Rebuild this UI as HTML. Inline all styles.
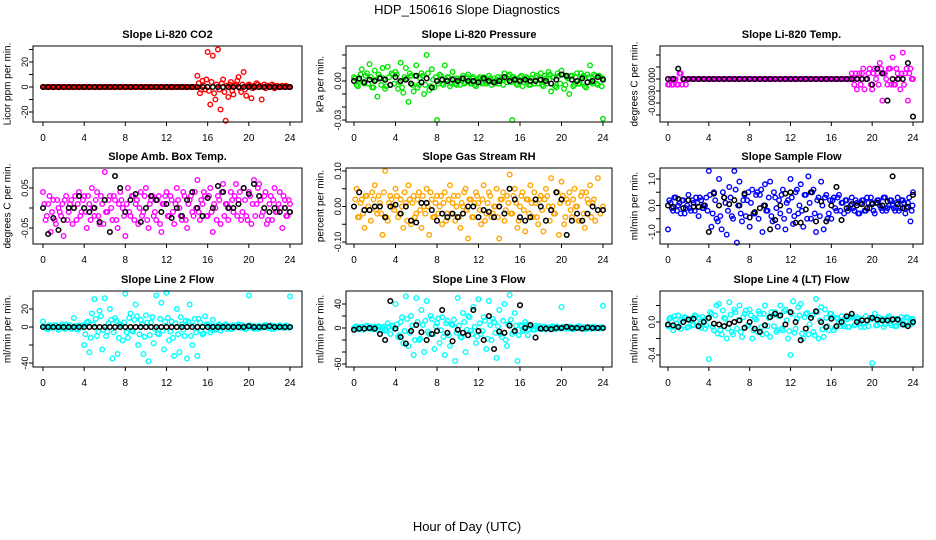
<!DOCTYPE html>
<html><head><meta charset="utf-8"><style>
body{margin:0;background:#fff;}
svg{display:block;font-family:"Liberation Sans",sans-serif;}
</style></head><body>
<svg id="chart" width="936" height="540" viewBox="0 0 936 540">
<text x="467" y="14" text-anchor="middle" font-size="13">HDP_150616  Slope Diagnostics</text>
<text x="467" y="531" text-anchor="middle" font-size="13">Hour of Day (UTC)</text>
</svg>
<script>
const H = [0,0.25,0.5,0.75,1,1.25,1.5,1.75,2,2.25,2.5,2.75,3,3.25,3.5,3.75,4,4.25,4.5,4.75,5,5.25,5.5,5.75,6,6.25,6.5,6.75,7,7.25,7.5,7.75,8,8.25,8.5,8.75,9,9.25,9.5,9.75,10,10.25,10.5,10.75,11,11.25,11.5,11.75,12,12.25,12.5,12.75,13,13.25,13.5,13.75,14,14.25,14.5,14.75,15,15.25,15.5,15.75,16,16.25,16.5,16.75,17,17.25,17.5,17.75,18,18.25,18.5,18.75,19,19.25,19.5,19.75,20,20.25,20.5,20.75,21,21.25,21.5,21.75,22,22.25,22.5,22.75,23,23.25,23.5,23.75,24];
const HC = [0.125,0.375,0.625,0.875,1.125,1.375,1.625,1.875,2.125,2.375,2.625,2.875,3.125,3.375,3.625,3.875,4.125,4.375,4.625,4.875,5.125,5.375,5.625,5.875,6.125,6.375,6.625,6.875,7.125,7.375,7.625,7.875,8.125,8.375,8.625,8.875,9.125,9.375,9.625,9.875,10.125,10.375,10.625,10.875,11.125,11.375,11.625,11.875,12.125,12.375,12.625,12.875,13.125,13.375,13.625,13.875,14.125,14.375,14.625,14.875,15.125,15.375,15.625,15.875,16.125,16.375,16.625,16.875,17.125,17.375,17.625,17.875,18.125,18.375,18.625,18.875,19.125,19.375,19.625,19.875,20.125,20.375,20.625,20.875,21.125,21.375,21.625,21.875,22.125,22.375,22.625,22.875,23.125,23.375,23.625,23.875,23.95];
const HB = [0,0.5,1,1.5,2,2.5,3,3.5,4,4.5,5,5.5,6,6.5,7,7.5,8,8.5,9,9.5,10,10.5,11,11.5,12,12.5,13,13.5,14,14.5,15,15.5,16,16.5,17,17.5,18,18.5,19,19.5,20,20.5,21,21.5,22,22.5,23,23.5,24];
const xTicks = [0,4,8,12,16,20,24];

const co2 = [0,0,0,0,0,0,0,0,0,0,0,0,0,0,0,0,0,0,0,0,0,0,0,0,0,0,0,0,0,0,0,0,0,0,0,0,0,0,0,0,0,0,0,0,0,0,0,0,0,0,0,0,0,0,0,0,0,0,0,0,
 9,-5,5,-2, 28,-14,25,-10, 30,-18,6,-27, -8,4,-6,2, 8,-4,12,-7, 2,-9,1,3, 0,-10,2,1, 0,2,-1,1, 0,1,0,0, 0];
const co2Core = [0,0,0,0,0,0,0,0,0,0,0,0,0,0,0,0,0,0,0,0,0,0,0,0,0,0,0,0,0,0,0,0,0,0,0,0,0,0,0,0,0,0,0,0,0,0,0,0,0,0,0,0,0,0,0,0,0,0,0,0,
 3,-2,1,6, -3,4,-5,2, -2,3,-4,1, 2,-3,1,5, -1,2,-2,1, 1,-1,0,2, 1,0,-1,1, 0,1,0,0, 0,0,1,0, 0];
const co2Ref = [0,0,0,0,0,0,0,0,0,0,0,0,0,0,0,0,0,0,0,0,0,0,0,0,0,0,0,0,0,0,0,0,0,0,0,0,0,0,0,0,0,0,0,0,0,0,0,0,0];

const press = [.003,-.003,.001,.009, -.002,.006,.013,-.005, .008,-.012,.003,.010, -.006,.011,-.003,.005, .007,-.006,.014,-.009, .010,-.016,.004,-.008, .012,-.003,.006,-.010, .020,-.007,.009,-.005, -.030,.005,-.002,.012, .003,-.004,.007,-.002, .002,-.003,.004,-.001, .005,-.002,.003,-.004, .002,-.001,.003,-.002, .004,-.003,.002,.001, -.002,.003,.006,-.001, .005,-.030,.002,-.003, .003,-.004,.001,.002, -.003,.005,.003,-.002, .006,-.004,.002,.007, -.008,.003,-.005,.004, .008,-.006,.003,-.010, .004,-.003,.006,-.002, .003,-.004,.005,.012, -.002,.004,-.003,.003, -.029];
const pressCore = [.002,-.004,.005,-.001, .004,-.002,.003,-.005, .001,.005,-.003,.002, -.004,.003,.006,-.002, .005,-.001,-.005,.003, .002,.006,-.003,.004, -.005,.002,.004,-.003, .006,-.004,.001,.003, -.002,.004,-.003,.001, .003,-.002,.002,-.003, .001,.002,-.002,.003, -.001,.002,-.003,.001, .003,-.002,.001,-.001, .002,-.001,-.002,.003, .001,-.003,.002,.004, -.001,.003,-.002,.001, .004,-.001,.003,-.003, .002,-.002,.004,.001, -.003,.004,-.002,.005, .003,-.004,.006,-.002, .005,-.003,.002,.004, -.004,.003,-.002,.006, .004,-.005,.003,-.001, .005,-.002,.004,-.004, .002];
const pressRef = [.000,.002,-.001,.001,.000,.002,.001,-.003,.003,.000,.001,-.002,.004,-.001,.002,-.005,.000,.001,.000,.001,.000,.002,.000,.000,-.001,.002,.000,-.001,.000,.003,.000,.001,.000,.001,.000,.000,.001,.000,-.002,.001,.005,.004,.001,.000,.002,-.001,.000,.003,.001];

const ltemp = [-.0007,0,-.0007,0, -.0007,.0007,0,-.0007, 0,0,0,0,0,0,0,0,0,0,0,0,0,0,0,0,0,0,0,0,0,0,0,0,0,0,0,0,0,0,0,0,0,0,0,0,0,0,0,0,0,0,0,0,0,0,0,0,0,0,0,0,0,0,0,0,0,0,0,0,0,0,0,0,
 .0007,-.0007,-.0013,.0007, .0007,-.0013,0,.0013, -.0013,.0013,.0007,.0020, -.0027,.0007,-.0007,.0013, .0027,-.0007,.0007,-.0013, .0033,.0007,-.0027,.0013, 0];
const ltempCore = [-.0007,-.0007,0,-.0007, .0007,-.0007,0,0, 0,0,0,0,0,0,0,0,0,0,0,0,0,0,0,0,0,0,0,0,0,0,0,0,0,0,0,0,0,0,0,0,0,0,0,0,0,0,0,0,0,0,0,0,0,0,0,0,0,0,0,0,0,0,0,0,0,0,0,0,0,0,0,0,
 0,.0007,0,-.0007, .0013,0,.0007,-.0007, .0007,0,-.0007,.0013, .0007,0,.0013,-.0007, -.0007,.0013,0,.0007, -.0007,.0013,.0007,0, 0];
const ltempRef = [0,0,.0013,0,0,0,0,0,0,0,0,0,0,0,0,0,0,0,0,0,0,0,0,0,0,0,0,0,0,0,0,0,0,0,0,0,0,0,0,0,-.0007,.0013,.0007,-.0027,0,0,0,.0020,-.0047];

const amb = [.04,-.03,.01,-.06, .02,-.04,.00,-.02, -.07,.03,-.01,.02, .00,-.03,.04,-.01, .03,-.05,.01,.05, -.02,.04,-.04,.01, .09,-.01,.03,-.03, .02,-.05,.04,.00, -.07,.05,-.02,.03, .01,-.04,.04,-.01, .05,-.05,.02,-.02, -.03,.03,-.06,.01, .04,-.02,.02,-.04, .05,.00,-.03,.03, -.05,.02,-.01,.04, .07,-.03,.01,.03, -.02,.05,-.06,.00, .03,-.04,.06,.01, -.03,.04,-.01,.06, .02,-.03,.05,-.02, .04,-.04,.07,.01, .06,-.02,.03,-.04, .01,-.03,.05,-.01, .04,-.05,.02,-.02, .01];
const ambCore = [.01,-.02,.03,-.01, -.03,.02,-.01,.01, .02,-.03,.01,-.04, .03,.01,-.02,.02, -.01,.03,-.03,.00, .02,-.02,.03,-.04, -.01,.02,.00,.03, -.03,.01,.02,-.02, .01,-.01,.03,-.03, .02,.00,-.02,.03, -.03,.01,.03,-.01, .02,-.04,.01,.03, -.02,.03,-.01,.01, .02,-.02,.04,-.03, .01,.03,-.02,.00, -.01,.02,.04,-.02, .03,-.01,.01,-.03, .02,.04,-.02,.01, .00,.02,.03,-.02, .04,-.01,.02,-.03, .03,.01,-.02,.05, .02,-.01,.04,-.03, .03,.02,-.01,.01, .00,.03,-.02,.02, -.01];
const ambRef = [.00,-.065,-.025,-.055,-.03,.00,.00,.03,.00,-.01,.00,-.035,.02,-.06,.08,.05,-.01,.02,.035,-.035,.00,.03,.02,-.01,.01,-.025,.00,-.02,.02,.04,.00,-.02,.025,.00,.055,.04,.00,.00,.01,.05,.035,.06,.03,.00,-.01,.00,-.01,.00,-.01];

const rh = [.00,.05,-.03,.02, -.06,.03,-.01,.04, .06,-.02,.01,-.08, .10,-.04,.03,.00, .05,-.03,.02,-.06, .01,.06,-.05,.03, -.02,.04,-.06,.00, .05,-.08,.02,-.03, .03,.00,-.05,.04, -.02,.06,.01,-.04, .03,-.06,.00,.05, -.09,.02,-.03,.04, .01,-.05,.06,-.02, .04,-.03,.00,.05, -.09,.02,-.04,.03, .09,-.02,.05,-.06, .00,.04,-.07,.02, .06,-.03,.01,-.05, .03,-.07,.05,.00, .08,-.02,.04,-.08, .07,-.05,.02,.04, -.03,.05,.00,-.04, .04,-.06,.02,.06, .01,-.04,.08,-.02, .00];
const rhCore = [.02,-.03,.01,-.02, .03,.00,-.04,.02, -.01,.03,-.02,.04, -.03,.01,.02,-.01, .03,-.02,.00,.04, -.04,.02,.01,-.03, .02,-.01,.03,-.02, .00,.04,-.03,.01, -.02,.03,.01,-.04, .02,-.02,.03,.00, -.03,.01,.04,-.01, .02,-.03,.01,.03, -.01,.02,-.04,.01, .03,-.02,.00,-.03, .02,.04,-.01,.01, -.02,.03,.01,-.04, .03,-.01,.02,-.02, .01,.04,-.03,.02, -.01,.02,.03,-.04, .00,-.02,.04,.01, .03,-.03,.01,-.01, .02,.00,-.04,.03, -.02,.04,.01,-.03, .02];
const rhRef = [.00,.04,-.01,-.01,.00,.00,-.03,.00,.005,-.02,.00,-.04,-.045,.01,.01,-.01,-.04,-.02,-.03,-.02,-.03,-.02,.00,.00,-.03,-.01,-.015,-.03,.00,-.02,.05,.02,-.03,-.04,-.03,.02,.00,-.04,-.01,.04,.02,-.08,-.04,-.02,-.04,-.02,.00,-.01,-.01];

const sflow = [-.9,.1,-.2,.3, .0,-.3,.2,-.1, .4,-.2,.1,.3, -.4,.2,-.1,.3, 1.3,-.8,.5,-.5, 1.0,-.9,.3,-1.1, .7,-.4,1.3,-1.4, .9,-.6,.4,.2, -.8,.6,-.3,.5, .4,-1.0,.8,-.2, .9,-.6,.3,-.8, -.3,.6,-.9,.2, 1.0,-.7,.5,-.3, .8,-.8,.4,1.1, -.5,.6,-1.0,.3, .9,-.9,.4,-.3, -.5,.3,-.2,.4, .1,-.3,.2,-.1, .3,-.2,.1,-.3, .2,-.2,.3,-.1, .1,-.3,.2,.0, -.2,.3,-.1,.2, .0,-.2,.3,-.1, .2,-.3,.1,-.6, .5];
const sflowCore = [.2,-.1,.3,-.2, .1,.2,-.3,.0, -.1,.2,-.2,.1, .3,-.1,.0,-.2, .4,-.3,.2,-.6, -.4,.5,.1,-.2, .3,-.5,.6,.0, -.3,.2,-.4,.5, .1,-.3,.4,-.5, .6,.0,-.2,.3, -.4,.5,-.1,.2, .4,-.5,.1,-.2, .3,-.4,.6,.0, -.2,.4,-.5,.1, .5,-.3,.2,-.4, .0,.3,-.5,.2, .2,-.1,.3,-.2, .1,.2,-.2,.0, -.1,.2,-.3,.1, .2,-.2,.1,.3, -.2,.1,.2,-.1, .3,-.2,.0,.2, -.1,.1,-.2,.2, .1,-.1,.3,-.2, .0];
const sflowRef = [.0,-.05,.25,-.1,.2,-.05,-.05,.0,-1.0,.45,.0,.3,.05,.2,.0,.45,-.45,-.25,-.1,.0,-.9,-.55,.0,.45,.5,-.65,-.65,-.15,.5,-.6,.15,-.6,.0,.7,-.55,-.1,.05,.0,.05,-.1,.05,.1,.0,.15,1.1,.05,-.1,-.05,.4];

const l2 = [6,0,-2,1, 0,2,-3,1, -1,3,0,-2, 10,-2,2,0, -20,5,-28,15, 31,-10,18,-25, 32,-5,20,-35, 10,-30,3,-15, 37,-12,15,-5, 25,-20,8,-30, 13,-38,5,-18, 35,-8,27,-25, 38,-15,6,-32, 20,-28,3,-10, -35,25,-20,9, -32,5,-8,12, 3,-6,8,-3, 2,-4,1,3, 0,-2,2,1, 3,-1,0,-2, 35,1,-2,0, 1,-1,2,0, 0,-2,1,-1, 2,0,-1,1, 34];
const l2Core = [1,-2,2,-1, 2,-1,0,3, -2,1,2,-1, 1,-3,0,2, -8,6,-12,3, 9,-5,12,-3, -10,4,8,-6, 7,-12,2,5, -6,10,-4,8, 12,-8,3,-11, 5,-9,11,-2, -7,9,-4,6, 10,-5,-12,4, -8,11,-3,7, 6,-10,2,-6, 9,-4,-7,3, 2,-3,1,-2, 3,-1,2,-2, 1,-2,0,2, -1,2,-2,1, 2,-1,1,-2, -1,1,2,-1, 2,-2,0,1, 1,-1,2,-1, 0];
const l2Ref = [0,0,0,0,0,0,0,0,0,0,0,0,0,0,0,0,0,0,0,0,0,0,0,0,0,0,0,0,0,0,0,0,0,0,0,0,0,0,0,0,1,0,0,0,1,0,0,0,0];

const l3 = [0,3,-2,2, -1,4,0,-2, 2,-3,1,0, -5,8,-10,3, 40,-15,10,-25, 53,-30,20,-45, 50,-20,30,-40, 45,-10,15,-35, 8,-25,18,-45, 12,-30,5,-55, 50,-15,25,-40, 20,-5,35,-25, 48,-10,18,-35, 45,-20,10,-50, 30,-15,40,-30, 55,-10,25,-55, 5,-5,10,-12, 2,-3,4,-1, 0,2,-2,1, 1,-1,3,0, 35,0,2,-1, 1,-1,0,2, 0,1,-1,0, 2,-1,0,1, 37];
const l3Core = [2,-2,1,-3, 3,-1,2,-2, 1,3,-2,2, -3,2,4,-1, 6,-12,18,-5, 15,-8,4,-20, 10,-18,5,12, -6,20,-10,3, 16,-4,-15,8, -12,6,14,-8, 4,-16,10,-3, 18,-10,2,-14, 8,-5,12,-18, 5,15,-8,3, -10,12,-20,6, 14,-6,4,-12, 3,-4,6,-2, 2,-3,1,3, -2,2,-1,1, 3,-2,1,-1, 2,-1,0,2, -2,1,3,-1, 1,-2,2,-1, 2,0,-1,1, 1];
const l3Ref = [-3,-1,-1,0,-1,-10,-20,45,-1,-15,-26,-5,5,-7,-20,-10,-5,30,-8,-22,-3,-8,-12,30,-5,-20,20,-35,-6,-8,4,-5,38,0,5,-16,-1,-1,-2,0,0,2,0,0,-1,1,0,0,0];

const l4 = [-.05,.05,-.1,.03, .08,-.08,.0,.05, -.06,.04,-.03,.07, .05,-.07,.02,-.04, -.45,.1,-.1,.2, .22,-.15,.05,-.2, .24,-.12,.15,-.08, .2,-.18,.1,-.05, .15,-.2,.05,-.12, .1,-.15,.2,-.05, -.18,.08,.12,-.1, .2,-.1,.15,-.2, -.4,.25,-.08,.18, .22,-.2,.1,-.15, .45,-.12,.28,-.2, .18,-.18,.05,-.1, .1,-.1,.05,.0, .07,-.05,.03,-.06, .05,-.04,.06,-.02, .04,-.06,.02,.05, -.5,.1,-.04,.03, .04,-.03,.05,-.02, .03,-.05,.04,.0, .02,-.04,.05,-.03, .03];
const l4Core = [.04,-.06,.07,-.02, -.05,.03,.06,-.07, .02,-.04,.08,-.05, -.02,.06,-.08,.04, .12,-.06,.08,-.14, -.1,.14,.04,-.08, .09,-.15,.12,.02, -.12,.06,.14,-.04, .08,-.1,.03,.13, -.06,.1,-.14,.05, .12,-.05,-.12,.07, -.08,.13,.02,-.11, .1,-.13,.04,.08, -.14,.06,.11,-.03, .08,-.16,.12,.02, -.09,.15,-.05,.1, .06,-.07,.04,-.05, -.03,.05,-.06,.07, .06,-.03,.04,-.06, -.02,.07,-.05,.03, .05,-.04,.06,-.02, -.06,.03,.07,-.04, .04,-.05,.02,.06, -.03,.06,-.02,.04, -.01];
const l4Ref = [-.03,-.04,-.06,.0,.03,.04,-.05,.0,.05,-.02,-.03,-.05,-.02,.0,.02,-.07,.0,-.08,-.12,-.04,.06,.1,.08,-.03,.12,.0,-.22,-.08,.05,.13,.0,-.06,.04,-.05,.0,.07,.1,.0,.02,.02,.05,.03,.02,.02,.03,.03,-.03,-.05,.0];

const titles = ["Slope Li-820 CO2","Slope Li-820 Pressure","Slope Li-820 Temp.","Slope Amb. Box Temp.","Slope Gas Stream RH","Slope Sample Flow","Slope Line 2 Flow","Slope Line 3 Flow","Slope Line 4 (LT) Flow"];
const yTitles = ["Licor ppm per min.","kPa per min.","degrees C per min.","degrees C per min.","percent per min.","ml/min per min.","ml/min per min.","ml/min per min.","ml/min per min."];
const yTicks = [[-20,-10,0,10,20,30],[-0.03,-0.02,-0.01,0,0.01,0.02],[-0.0045,-0.003,-0.0015,0,0.0015,0.003],[-0.05,0,0.05],[-0.1,-0.05,0,0.05,0.1],[-1,-0.5,0,0.5,1],[-40,-20,0,20],[-60,-40,-20,0,20,40],[-0.4,-0.2,0,0.2]];
const yTickLabels = [["-20","","0","","20",""],["-0.03","","","0.00","",""],["","-0.003","","0.000","",""],["-0.05","","0.05"],["-0.10","","0.00","","0.10"],["-1.0","","0.0","","1.0"],["-40","","0","20"],["-60","","","0","","40"],["-0.4","","0.0",""]];
const yDomains = [[-28,32.8],[-0.0315,0.0269],[-0.00538,0.00413],[-0.09,0.1],[-0.1056,0.1085],[-1.453,1.415],[-44.4,40],[-65,61.7],[-0.545,0.376]];
const series = [co2,press,ltemp,amb,rh,sflow,l2,l3,l4];
const coreSeries = [co2Core,pressCore,ltempCore,ambCore,rhCore,sflowCore,l2Core,l3Core,l4Core];
const refSeries = [co2Ref,pressRef,ltempRef,ambRef,rhRef,sflowRef,l2Ref,l3Ref,l4Ref];
const colors = ["#ff0000","#00e600","#ff00ff","#ff00ff","#ffa500","#0000ff","#00ffff","#00ffff","#00ffff"];
const slugs = ["co2","pressure","licor-temp","amb-box-temp","gas-rh","sample-flow","line2-flow","line3-flow","line4-flow"];

const NS = "http://www.w3.org/2000/svg";
const svg = document.getElementById("chart");
const colBox = [[33,302,43,290],[346,612,354,603],[660,923,668,913]];
const rowBox = [[46,122],[168,244],[291,367]];
function mk(tag, attrs, parent){const e=document.createElementNS(NS,tag);for(const k in attrs)e.setAttribute(k,attrs[k]);(parent||svg).appendChild(e);return e;}

for(let p=0;p<9;p++){
  const c=p%3, r=Math.floor(p/3);
  const [bl,br,x0,x24]=colBox[c], [bt,bb]=rowBox[r];
  const xs = h => x0 + h*(x24-x0)/24;
  const [lo,hi]=yDomains[p];
  const ys = v => bb - (v-lo)/(hi-lo)*(bb-bt);
  const g = mk("g",{});
  
  
  const cp = mk("clipPath",{id:"cp"+p},g);
  mk("rect",{x:bl-2,y:bt-2,width:br-bl+4,height:bb-bt+4},cp);
  const t = mk("text",{x:(bl+br)/2,y:bt-8,"text-anchor":"middle","font-size":"11","font-weight":"bold"},g);
  t.textContent=titles[p];
  
  
  const tx = bl-25, ty=(bt+bb)/2;
  const yt = mk("text",{x:tx,y:ty,"text-anchor":"middle","font-size":"10",transform:`rotate(-90 ${tx} ${ty})`,"dominant-baseline":"central"},g);
  yt.textContent=yTitles[p];
  
  
  const pg = mk("g",{"clip-path":`url(#cp${p})`},g);
  
  
  const vals=series[p];
  for(let i=0;i<Math.min(H.length,vals.length);i++){
    const pt=mk("circle",{cx:xs(H[i]),cy:ys(vals[i]),r:2.3,fill:"none",stroke:colors[p],"stroke-width":1.4},pg);
    
    
  }
  const cv=coreSeries[p];
  for(let i=0;i<Math.min(HC.length,cv.length);i++){
    const pt=mk("circle",{cx:xs(HC[i]),cy:ys(cv[i]),r:2.3,fill:"none",stroke:colors[p],"stroke-width":1.4},pg);
    
    
  }
  const rv=refSeries[p];
  for(let i=0;i<Math.min(HB.length,rv.length);i++){
    const pt=mk("circle",{cx:xs(HB[i]),cy:ys(rv[i]),r:2.3,fill:"none",stroke:"#000","stroke-width":1.5},pg);
    
    
  }
  const bx=mk("rect",{x:bl,y:bt,width:br-bl,height:bb-bt,fill:"none",stroke:"#000","stroke-width":1},g);
  
  
  xTicks.forEach(h=>{
    mk("line",{x1:xs(h),x2:xs(h),y1:bb,y2:bb+4,stroke:"#000"},g);
    const tl=mk("text",{x:xs(h),y:bb+19,"text-anchor":"middle","font-size":"10"},g);
    tl.textContent=String(h);
    
    
  });
  const tks=yTicks[p];
  tks.forEach((v,i)=>{
    mk("line",{x1:bl,x2:bl-4,y1:ys(v),y2:ys(v),stroke:"#000"},g);
    const lab=yTickLabels[p][i];
    if(lab){
      const X=bl-8, Y=ys(v);
      const tl=mk("text",{x:X,y:Y,"text-anchor":"middle","font-size":"9",transform:`rotate(-90 ${X} ${Y})`,"dominant-baseline":"central"},g);
      tl.textContent=lab;
      
      
    }
  });
}
</script>
</body></html>
